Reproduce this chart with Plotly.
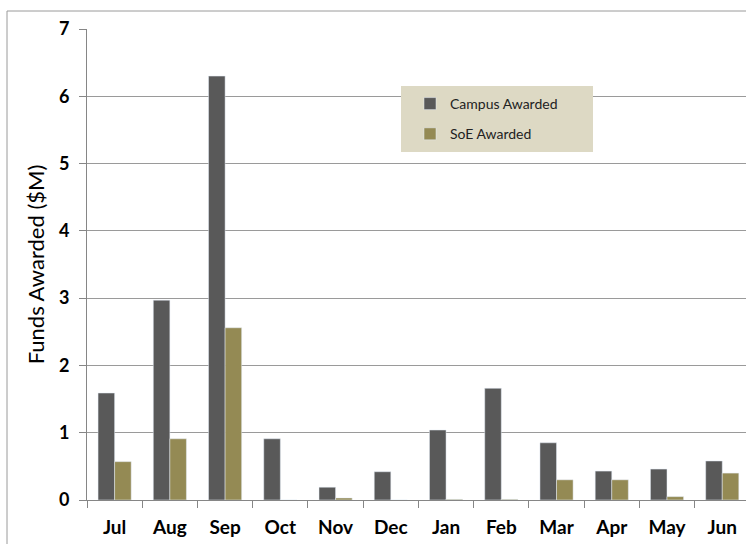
import plotly.graph_objects as go

months = ["Jul", "Aug", "Sep", "Oct", "Nov", "Dec", "Jan", "Feb", "Mar", "Apr", "May", "Jun"]
campus = [1.59, 2.97, 6.30, 0.91, 0.19, 0.42, 1.04, 1.66, 0.85, 0.43, 0.46, 0.58]
soe = [0.57, 0.91, 2.56, 0.0, 0.03, 0.0, 0.01, 0.01, 0.30, 0.30, 0.05, 0.40]

W, H = 746, 544
L, R, T, B = 87, 746, 29, 500

def px(x):
    return (x - L) / (R - L)

def py(y):
    return (B - y) / (B - T)

FONT = "Lato, Carlito, Open Sans, sans-serif"

fig = go.Figure()
fig.add_trace(go.Bar(x=months, y=campus, name="Campus Awarded",
                     marker_color="#595959", legendgroup="a"))
fig.add_trace(go.Bar(x=months, y=soe, name="SoE Awarded",
                     marker_color="#948A54", legendgroup="b"))

fig.update_layout(
    width=W, height=H,
    margin=dict(l=L, r=W - R, t=T, b=H - B),
    paper_bgcolor="white", plot_bgcolor="white",
    barmode="group", bargap=0.4, bargroupgap=0,
    font=dict(family=FONT, color="black"),
    showlegend=True,
    legend=dict(x=px(410), y=py(88), xanchor="left", yanchor="top",
                bgcolor="rgba(0,0,0,0)", tracegroupgap=9,
                font=dict(size=14, color="#222222"), itemwidth=30),
    xaxis=dict(range=[-0.5, 11.43], showline=True, linecolor="#868686",
               ticks="outside", tickson="boundaries", ticklen=7,
               tickcolor="#868686", ticklabelstandoff=10,
               tickfont=dict(size=19, family=FONT, weight="bold"),
               showgrid=False, fixedrange=True),
    yaxis=dict(range=[0, 7], dtick=1, showline=True, linecolor="#868686",
               ticks="outside", ticklen=7, tickcolor="#868686",
               ticklabelstandoff=6,
               gridcolor="#9a9a9a", gridwidth=1, zeroline=False,
               tickfont=dict(size=18, family=FONT, weight="bold"),
               title=dict(text="Funds Awarded ($M)", font=dict(size=22, family=FONT), standoff=8)),
)

# legend background box
fig.add_shape(type="rect", xref="paper", yref="paper",
              x0=px(401), x1=px(593), y0=py(152), y1=py(86),
              fillcolor="#DDD9C4", line=dict(width=0), layer="above")
# outer chart border
fig.add_shape(type="rect", xref="paper", yref="paper",
              x0=px(7), x1=px(760), y0=py(560), y1=py(11),
              fillcolor="rgba(0,0,0,0)", line=dict(color="#9a9a9a", width=1), layer="above")

fig.write_html("out.html")
